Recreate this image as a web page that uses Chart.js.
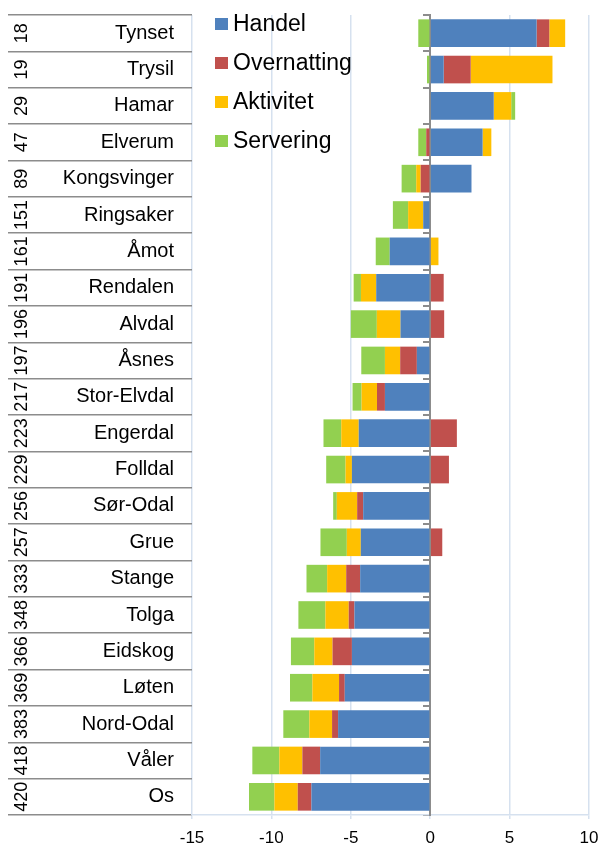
<!DOCTYPE html>
<html>
<head>
<meta charset="utf-8">
<script src="https://cdn.jsdelivr.net/npm/chart.js@4/dist/chart.umd.min.js"></script>
<style>
  body { margin: 0; background: #fff; }
  #wrap { width: 599px; height: 845px; }
</style>
</head>
<body>
<div id="wrap"><canvas id="chart"></canvas></div>
<script>
// --- Hedmark municipalities: change per sector ---

const names = ['Tynset', 'Trysil', 'Hamar', 'Elverum', 'Kongsvinger', 'Ringsaker', 'Åmot', 'Rendalen',
  'Alvdal', 'Åsnes', 'Stor-Elvdal', 'Engerdal', 'Folldal', 'Sør-Odal', 'Grue', 'Stange', 'Tolga',
  'Eidskog', 'Løten', 'Nord-Odal', 'Våler', 'Os'];
const ranks = ['18', '19', '29', '47', '89', '151', '161', '191', '196', '197', '217', '223', '229',
  '256', '257', '333', '348', '366', '369', '383', '418', '420'];

const handel = [6.7, 0.85, 4.0, 3.3, 2.6, -0.44, -2.55, -3.4, -1.87, -0.84, -2.85, -4.5, -4.93, -4.22,
  -4.37, -4.41, -4.77, -4.93, -5.38, -5.8, -6.93, -7.48];
const overnatting = [0.8, 1.7, 0, -0.25, -0.6, 0, 0, 0.85, 0.88, -1.05, -0.5, 1.68, 1.18, -0.38,
  0.76, -0.88, -0.36, -1.22, -0.36, -0.38, -1.12, -0.86];
const aktivitet = [1.0, 5.15, 1.1, 0.55, -0.28, -0.95, 0.52, -0.96, -1.49, -0.96, -0.97, -1.1, -0.4,
  -1.28, -0.88, -1.2, -1.47, -1.15, -1.68, -1.43, -1.45, -1.47];
const servering = [-0.75, -0.2, 0.25, -0.5, -0.92, -0.96, -0.88, -0.46, -1.64, -1.49, -0.57, -1.12,
  -1.22, -0.23, -1.66, -1.3, -1.7, -1.47, -1.41, -1.64, -1.7, -1.6];

const xTicks = { min: -15, max: 10, step: 5 };

const FONT = '"Liberation Sans", Arial, sans-serif';
const GRID_BLUE = '#d6e1ef';
const ROW_GRAY = '#8c8c8c';

// legend drawn in the top-left corner of the plot, one entry per dataset
const cornerLegend = {
  id: 'cornerLegend',
  afterDraw(chart, args, opts) {
    const ctx = chart.ctx;
    ctx.save();
    ctx.font = `23px ${FONT}`;
    ctx.textBaseline = 'middle';
    chart.data.datasets.forEach((ds, i) => {
      const y = opts.top + i * opts.step;
      ctx.fillStyle = ds.backgroundColor;
      ctx.fillRect(opts.left, y - 6, 13, 12);
      ctx.fillStyle = '#000';
      ctx.fillText(ds.label, opts.left + 18, y + 1);
    });
    ctx.restore();
  }
};

const ds = (label, data, color) => ({
  label, data,
  backgroundColor: color,
  borderWidth: 0,
  barPercentage: 0.76,
  categoryPercentage: 1
});

new Chart(document.getElementById('chart'), {
  type: 'bar',
  data: {
    labels: names,
    datasets: [
      ds('Handel', handel, '#4f81bd'),
      ds('Overnatting', overnatting, '#c0504d'),
      ds('Aktivitet', aktivitet, '#ffc000'),
      ds('Servering', servering, '#92d050')
    ]
  },
  plugins: [cornerLegend],
  options: {
    indexAxis: 'y',
    responsive: true,
    maintainAspectRatio: false,
    animation: false,
    layout: { padding: { left: 8, right: 0, top: 15, bottom: 0 } },
    plugins: {
      legend: { display: false },
      tooltip: { enabled: false },
      cornerLegend: { left: 215, top: 24, step: 39 }
    },
    scales: {
      x: {
        type: 'linear',
        stacked: true,
        min: xTicks.min,
        max: xTicks.max,
        ticks: { stepSize: xTicks.step, color: '#000', font: { family: FONT, size: 17 }, padding: 9 },
        grid: { color: GRID_BLUE, lineWidth: 1.5, tickLength: 4 },
        border: { color: GRID_BLUE, width: 1.5 },
        afterFit: s => { s.height = 30; s.paddingRight = 10; }
      },
      y: {
        stacked: true,
        position: 'left',
        weight: 0,
        grid: { drawOnChartArea: false, tickLength: 140, color: ROW_GRAY, lineWidth: 1.5 },
        border: { display: false },
        ticks: { autoSkip: false, crossAlign: 'near', padding: -122, color: '#000', font: { family: FONT, size: 20 } },
        afterFit: s => { s.width = 140; }
      },
      yRank: {
        axis: 'y',
        type: 'category',
        labels: ranks,
        position: 'left',
        weight: 1,
        offset: true,
        grid: { offset: true, drawOnChartArea: false, tickLength: 44, color: ROW_GRAY, lineWidth: 1.5 },
        border: { display: false },
        ticks: { autoSkip: false, minRotation: 90, maxRotation: 90, crossAlign: 'center', padding: -29,
          color: '#000', font: { family: FONT, size: 18 } },
        afterFit: s => { s.width = 44; }
      },
      yZero: {
        axis: 'y',
        type: 'category',
        labels: names,
        position: { x: 0 },
        offset: true,
        z: 1,
        grid: { offset: true, drawOnChartArea: false, tickLength: 6, color: ROW_GRAY, lineWidth: 2 },
        border: { color: ROW_GRAY, width: 2 },
        ticks: { display: false }
      }
    }
  }
});
</script>
</body>
</html>
